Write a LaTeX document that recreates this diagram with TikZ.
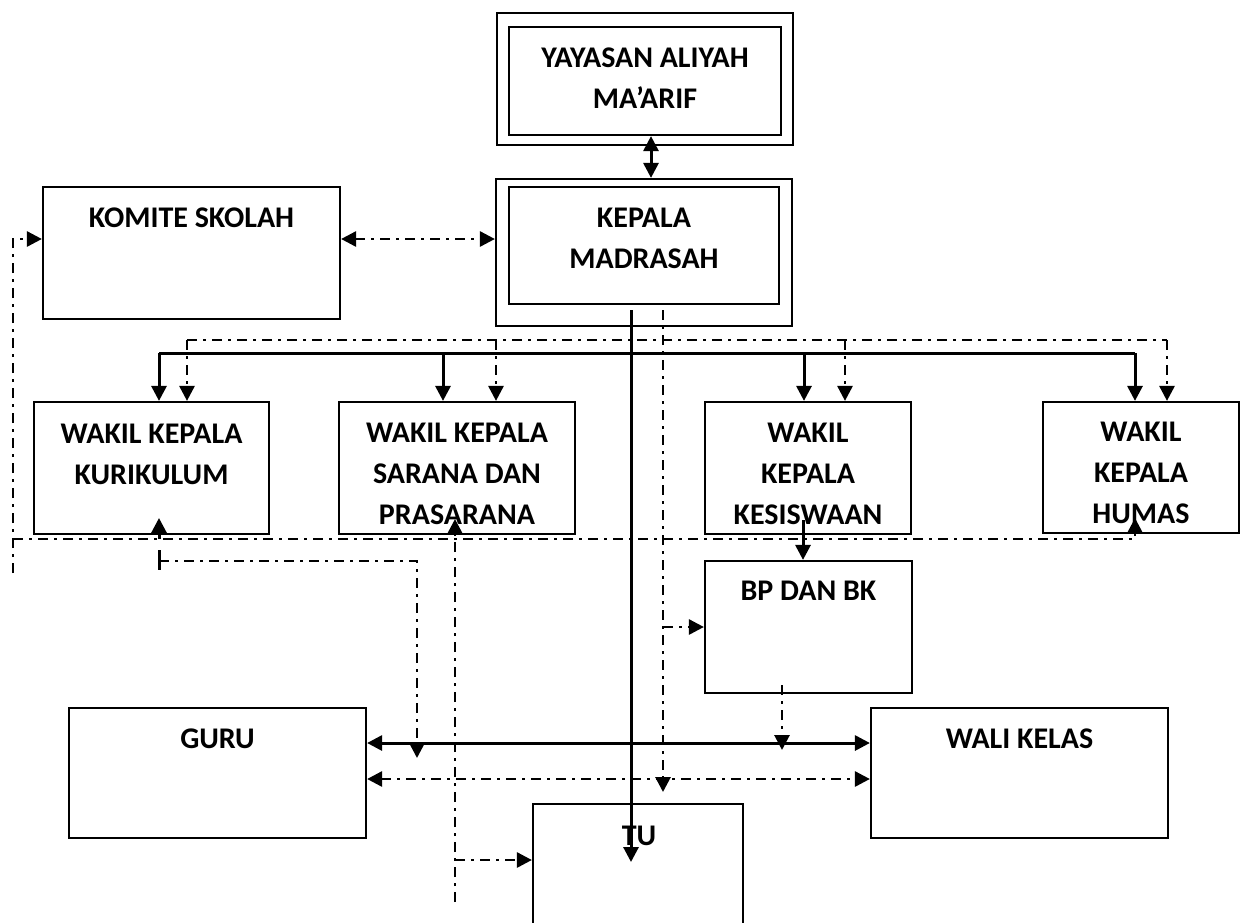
\documentclass[tikz,border=0pt]{standalone}
\usepackage{fontspec}
\setmainfont{Carlito}[BoldFont={Carlito Bold}]
\usetikzlibrary{arrows.meta}
\begin{document}
\begin{tikzpicture}[x=1pt,y=-1pt,
 box/.style={draw, line width=2.2pt, inner sep=0pt},
 lbl/.style={anchor=base, align=center, inner sep=0pt, font=\fontsize{30}{41}\selectfont\bfseries},
 sol/.style={line width=3pt},
 dd/.style={line width=2.8pt, dash pattern=on 10pt off 6pt on 3pt off 6pt},
 tip/.style={-{Triangle[length=15pt,width=15pt]}},
 tips/.style={{Triangle[length=15pt,width=15pt]}-{Triangle[length=15pt,width=15pt]}}]
\useasboundingbox (0,0) rectangle (1245,922);
% boxes
\node[box, minimum width=296pt, minimum height=132pt] (yayO) at (645,79) {};
\node[box, minimum width=272pt, minimum height=108pt] (yayI) at (645,81) {};
\node[box, minimum width=296pt, minimum height=147pt] (kepO) at (644,252.5) {};
\node[box, minimum width=270pt, minimum height=117pt] (kepI) at (644,245.5) {};
\node[box, minimum width=297pt, minimum height=132pt] (kom) at (191.5,253) {};
\node[box, minimum width=235pt, minimum height=132pt] (kur) at (151.5,468) {};
\node[box, minimum width=236pt, minimum height=132pt] (sar) at (457,468) {};
\node[box, minimum width=206pt, minimum height=132pt] (kes) at (808,468) {};
\node[box, minimum width=196pt, minimum height=131pt] (hum) at (1141,467.5) {};
\node[box, minimum width=207pt, minimum height=132pt] (bp) at (808.5,627) {};
\node[box, minimum width=297pt, minimum height=130pt] (guru) at (217.5,773) {};
\node[box, minimum width=297pt, minimum height=130pt] (wali) at (1019.5,773) {};
\node[box, minimum width=210pt, minimum height=140pt] (tu) at (638,874) {};
% labels (anchor = baseline of the last line)
\node[lbl] (yayT) at (645,108) {YAYASAN ALIYAH\\MA’ARIF};
\node[lbl] (kepT) at (644,268) {KEPALA\\MADRASAH};
\node[lbl] (komT) at (191.5,227) {KOMITE SKOLAH};
\node[lbl] (kurT) at (151.5,484) {WAKIL KEPALA\\KURIKULUM};
\node[lbl] (sarT) at (457,524) {WAKIL KEPALA\\SARANA DAN\\PRASARANA};
\node[lbl] (kesT) at (808,524) {WAKIL\\KEPALA\\KESISWAAN};
\node[lbl] (humT) at (1141,523) {WAKIL\\KEPALA\\HUMAS};
\node[lbl] (bpT) at (808.5,600) {BP DAN BK};
\node[lbl] (guruT) at (217.5,748) {GURU};
\node[lbl] (waliT) at (1019.5,748) {WALI KELAS};
\node[lbl] (tuT) at (639,845) {TU};
% coordinates
\coordinate (ks) at (631,310);
\coordinate (tuA) at (631,862);
\coordinate (s1) at (159,353);
\coordinate (s2) at (443,353);
\coordinate (s3) at (804,353);
\coordinate (s4) at (1135,353);
\coordinate (kd) at (663,310);
\coordinate (kdE) at (663,792);
\coordinate (kdb) at (663,627);
\coordinate (d1) at (187,340);
\coordinate (d2) at (496,340);
\coordinate (d3) at (845,340);
\coordinate (d4) at (1167,340);
\coordinate (kb) at (803,520);
\coordinate (bb) at (782,685);
\coordinate (bbE) at (782,750);
\coordinate (lb) at (13,573);
\coordinate (h0) at (13,539);
\coordinate (h1) at (1135,539);
\coordinate (hT) at (1135,518);
\coordinate (k0) at (159,539);
\coordinate (kT) at (159,518);
\coordinate (kS1) at (159,550);
\coordinate (kS2) at (159,570);
\coordinate (kB) at (159,561);
\coordinate (kC) at (417,561);
\coordinate (kE) at (417,758);
\coordinate (sB) at (455,902);
\coordinate (sT) at (455,519);
\coordinate (sJ) at (455,860);
% connectors
\draw[sol,tips] ([xshift=6pt]yayI.south) -- ([xshift=7pt]kepO.north);
\draw[dd,tips] ([yshift=14pt]kom.east) -- ([yshift=14pt]kom.east -| kepO.west);
\draw[dd,tip] (lb) |- ([yshift=14pt]kom.west);
\draw[sol] (s1) -- (s4);
\draw[sol,tip] (s1) -- (s1 |- kur.north);
\draw[sol,tip] (s2) -- (s2 |- sar.north);
\draw[sol,tip] (s3) -- (s3 |- kes.north);
\draw[sol,tip] (s4) -- (s4 |- hum.north);
\draw[sol,tip] (ks) -- (tuA);
\draw[dd] (d1) -- (d4);
\draw[dd,tip] (d1) -- (d1 |- kur.north);
\draw[dd,tip] (d2) -- (d2 |- sar.north);
\draw[dd,tip] (d3) -- (d3 |- kes.north);
\draw[dd,tip] (d4) -- (d4 |- hum.north);
\draw[dd,tip] (kd) -- (kdE);
\draw[dd,tip] (kdb) -- (kdb -| bp.west);
\draw[sol,tip] (kb) -- (kb |- bp.north);
\draw[dd,tip] (bb) -- (bbE);
\draw[sol,tips] ([yshift=30pt]guru.east) -- ([yshift=30pt]guru.east -| wali.west);
\draw[dd,tips] ([yshift=-6pt]guru.east) -- ([yshift=-6pt]guru.east -| wali.west);
\draw[dd,tip] (h0) -- (h1) -- (hT);
\draw[sol,tip] (k0) -- (kT);
\draw[sol] (kS1) -- (kS2);
\draw[dd,tip] (kB) -- (kC) -- (kE);
\draw[dd,tip] (sB) -- (sT);
\draw[dd,tip] (sJ) -- (sJ -| tu.west);
\end{tikzpicture}
\end{document}
